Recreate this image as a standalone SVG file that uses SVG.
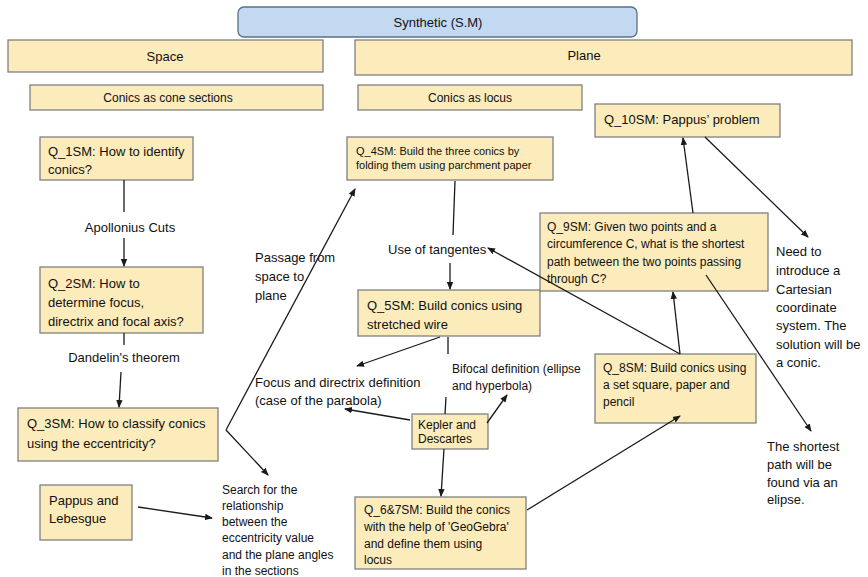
<svg xmlns="http://www.w3.org/2000/svg" width="868" height="577" viewBox="0 0 868 577">
  <style>
    .box { fill: #fcebbb; stroke: #808080; stroke-width: 1.3; }
    .blue { fill: #c3d9f1; stroke: #5a6f8a; stroke-width: 1.3; }
    .t { font-family: "Liberation Sans", Arial, sans-serif; font-size: 13px; fill: #111; }
    .h { font-family: "Liberation Sans", Arial, sans-serif; font-size: 13px; fill: #111; }
    .m { font-family: "Liberation Sans", Arial, sans-serif; font-size: 12px; fill: #111; }
    .s { font-family: "Liberation Sans", Arial, sans-serif; font-size: 11px; fill: #111; }
    .c { text-anchor: middle; }
    .ln { stroke: #1a1a1a; stroke-width: 1.3; fill: none; }
    .arr { marker-end: url(#ah); }
  </style>
  <defs>
    <marker id="ah" markerWidth="8" markerHeight="8" refX="7" refY="4" orient="auto" markerUnits="userSpaceOnUse">
      <path d="M0,0.8 L8,4 L0,7.2 Z" fill="#1a1a1a"/>
    </marker>
  </defs>

  <!-- headers -->
  <g id="synthetic">
    <rect class="blue" x="238" y="7" width="399" height="30" rx="6"/>
    <text class="h c" x="438" y="27">Synthetic (S.M)</text>
  </g>
  <g id="space">
    <rect class="box" x="8" y="40" width="315" height="32"/>
    <text class="h c" x="165" y="61">Space</text>
  </g>
  <g id="plane">
    <rect class="box" x="355" y="40" width="497" height="35"/>
    <text class="h c" x="584" y="60">Plane</text>
  </g>
  <g id="cone-sections">
    <rect class="box" x="30" y="85" width="293" height="25"/>
    <text class="m c" x="168" y="102">Conics as cone sections</text>
  </g>
  <g id="locus">
    <rect class="box" x="358" y="85" width="224" height="25"/>
    <text class="m c" x="470" y="102">Conics as locus</text>
  </g>

  <!-- space column -->
  <g id="q1">
    <rect class="box" x="40" y="137" width="153" height="43"/>
    <text class="t" x="48" y="156">Q_1SM: How to identify</text>
    <text class="t" x="48" y="174">conics?</text>
  </g>
  <g id="q2">
    <rect class="box" x="40" y="267" width="163" height="66"/>
    <text class="t" x="48" y="288">Q_2SM: How to</text>
    <text class="t" x="48" y="307">determine focus,</text>
    <text class="t" x="48" y="326">directrix and focal axis?</text>
  </g>
  <g id="q3">
    <rect class="box" x="18" y="408" width="200" height="53"/>
    <text class="t" x="27" y="428">Q_3SM: How to classify conics</text>
    <text class="t" x="27" y="448">using the eccentricity?</text>
  </g>
  <g id="pappus-lebesgue">
    <rect class="box" x="40" y="485" width="92" height="55"/>
    <text class="t" x="49" y="505">Pappus and</text>
    <text class="t" x="49" y="523">Lebesgue</text>
  </g>

  <!-- plane column -->
  <g id="q4">
    <rect class="box" x="347" y="137" width="206" height="43"/>
    <text class="s" x="356" y="155">Q_4SM: Build the three conics by</text>
    <text class="s" x="356" y="169">folding them using parchment paper</text>
  </g>
  <g id="q5">
    <rect class="box" x="358" y="290" width="182" height="46"/>
    <text class="t" x="367" y="310">Q_5SM: Build conics using</text>
    <text class="t" x="367" y="329">stretched wire</text>
  </g>
  <g id="kepler-descartes">
    <rect class="box" x="412" y="414" width="76" height="35"/>
    <text class="m" x="418" y="429">Kepler and</text>
    <text class="m" x="418" y="443">Descartes</text>
  </g>
  <g id="q67">
    <rect class="box" x="355" y="497" width="171" height="72"/>
    <text class="m" x="364" y="514">Q_6&amp;7SM: Build the conics</text>
    <text class="m" x="364" y="531">with the help of 'GeoGebra'</text>
    <text class="m" x="364" y="548">and define them using</text>
    <text class="m" x="364" y="564">locus</text>
  </g>
  <g id="q8">
    <rect class="box" x="595" y="354" width="161" height="69"/>
    <text class="m" x="603" y="372">Q_8SM: Build conics using</text>
    <text class="m" x="603" y="389">a set square, paper and</text>
    <text class="m" x="603" y="406">pencil</text>
  </g>
  <g id="q9">
    <rect class="box" x="540" y="213" width="228" height="78"/>
    <text class="m" x="547" y="231">Q_9SM: Given two points and a</text>
    <text class="m" x="547" y="248">circumference C, what is the shortest</text>
    <text class="m" x="547" y="266">path between the two points passing</text>
    <text class="m" x="547" y="283">through C?</text>
  </g>
  <g id="q10">
    <rect class="box" x="595" y="104" width="185" height="33"/>
    <text class="t" x="604" y="124">Q_10SM: Pappus’ problem</text>
  </g>

  <!-- free labels -->
  <g id="labels">
    <text class="t c" x="130" y="232">Apollonius Cuts</text>
    <text class="t c" x="124" y="362">Dandelin's theorem</text>
    <text class="t" x="255" y="262">Passage from</text>
    <text class="t" x="255" y="281">space to</text>
    <text class="t" x="255" y="300">plane</text>
    <text class="m" x="222" y="494">Search for the</text>
    <text class="m" x="222" y="510">relationship</text>
    <text class="m" x="222" y="526">between the</text>
    <text class="m" x="222" y="542">eccentricity value</text>
    <text class="m" x="222" y="559">and the plane angles</text>
    <text class="m" x="222" y="575">in the sections</text>
    <text class="t" x="388" y="254">Use of tangentes</text>
    <text class="t" x="255" y="387">Focus and directrix definition</text>
    <text class="t" x="255" y="405">(case of the parabola)</text>
    <text class="m" x="452" y="373">Bifocal definition (ellipse</text>
    <text class="m" x="452" y="390">and hyperbola)</text>
    <text class="t" x="776" y="256">Need to</text>
    <text class="t" x="776" y="275">introduce a</text>
    <text class="t" x="776" y="294">Cartesian</text>
    <text class="t" x="776" y="312">coordinate</text>
    <text class="t" x="776" y="330">system. The</text>
    <text class="t" x="776" y="349">solution will be</text>
    <text class="t" x="776" y="367">a conic.</text>
    <text class="t" x="767" y="451">The shortest</text>
    <text class="t" x="767" y="469">path will be</text>
    <text class="t" x="767" y="487">found via an</text>
    <text class="t" x="767" y="504">elipse.</text>
  </g>

  <!-- connectors -->
  <g id="connectors">
    <line class="ln" x1="124" y1="180" x2="124" y2="212"/>
    <line class="ln arr" x1="124" y1="238" x2="124" y2="266"/>
    <line class="ln" x1="124" y1="333" x2="124" y2="345"/>
    <line class="ln arr" x1="121" y1="372" x2="119" y2="407"/>
    <line class="ln arr" x1="226" y1="430" x2="355" y2="189"/>
    <line class="ln arr" x1="226" y1="430" x2="268" y2="475"/>
    <line class="ln arr" x1="138" y1="507" x2="212" y2="518"/>
    <line class="ln" x1="455" y1="181" x2="453" y2="235"/>
    <line class="ln arr" x1="450" y1="263" x2="450" y2="289"/>
    <line class="ln arr" x1="440" y1="337" x2="357" y2="366"/>
    <line class="ln" x1="448" y1="337" x2="448" y2="354"/>
    <line class="ln" x1="446" y1="397" x2="445" y2="414"/>
    <line class="ln arr" x1="410" y1="420" x2="345" y2="409"/>
    <line class="ln arr" x1="487" y1="423" x2="507" y2="395"/>
    <line class="ln arr" x1="444" y1="449" x2="441" y2="496"/>
    <line class="ln arr" x1="527" y1="510" x2="680" y2="416"/>
    <line class="ln arr" x1="680" y1="354" x2="673" y2="292"/>
    <line class="ln arr" x1="680" y1="354" x2="488" y2="248"/>
    <line class="ln arr" x1="693" y1="213" x2="683" y2="138"/>
    <line class="ln arr" x1="705" y1="137" x2="808" y2="237"/>
    <line class="ln arr" x1="706" y1="275" x2="811" y2="431"/>
  </g>
</svg>
